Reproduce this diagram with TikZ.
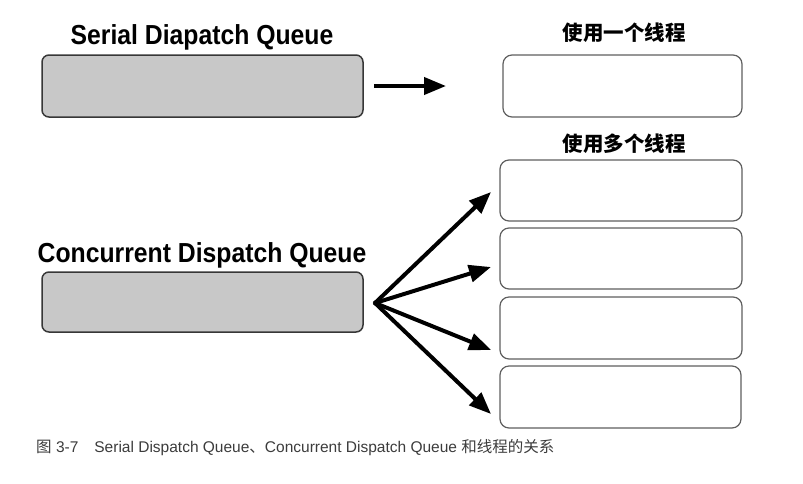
\documentclass[tikz,border=0pt]{standalone}
\usepackage{fontspec}
\setmainfont{Liberation Sans}
\newfontfamily\titlefont[FakeStretch=0.9]{Liberation Sans}
\newfontfamily\cjk{Noto Sans CJK SC}
\usetikzlibrary{arrows.meta}
\definecolor{qfill}{RGB}{200,200,200}
\definecolor{qline}{RGB}{55,55,55}
\definecolor{tline}{RGB}{95,95,95}
\definecolor{captc}{RGB}{60,60,60}
\begin{document}
\begin{tikzpicture}[x=1pt,y=-1pt,
  queuebox/.style={draw=qline,line width=1.5pt,fill=qfill,rounded corners=7pt},
  threadbox/.style={draw=tline,line width=1.2pt,fill=white,rounded corners=9pt},
  qtitle/.style={font=\titlefont\bfseries\fontsize{27.5}{29}\selectfont,anchor=base,inner sep=0pt},
  ctitle/.style={font=\cjk\bfseries\fontsize{20.5}{22}\selectfont,inner sep=0pt},
  arr/.style={-{Triangle[length=22pt,width=17pt]},line width=4pt,black}]
\useasboundingbox (0,0) rectangle (803,483);
% serial
\node[qtitle] (st) at (202,44) {Serial Diapatch Queue};
\draw[queuebox] (42,55) rectangle (363,117);
\node[ctitle] (t1) at (624,33) {使用一个线程};
\draw[threadbox] (503,55) rectangle (742,117);
\coordinate (s1a) at (374,86);
\coordinate (s1b) at (446,86);
\draw[arr] (s1a) -- (s1b);
% concurrent
\node[qtitle] (ct) at (202,262) {Concurrent Dispatch Queue};
\draw[queuebox] (42,272) rectangle (363,332);
\node[ctitle] (t2) at (624,144) {使用多个线程};
\draw[threadbox] (500,160) rectangle (742,221);
\draw[threadbox] (500,228) rectangle (742,289);
\draw[threadbox] (500,297) rectangle (742,359);
\draw[threadbox] (500,366) rectangle (741,428);
\coordinate (o) at (375,303);
\coordinate (e1) at (491,192);
\coordinate (e2) at (491,267);
\coordinate (e3) at (491,350);
\coordinate (e4) at (491,414);
\foreach \e in {e1,e2,e3,e4} \draw[arr,shorten <=-1pt] (o) -- (\e);
% caption
\node[anchor=base west,inner sep=0pt,text=captc,font=\fontsize{15.5}{17}\selectfont] (cap) at (36,452)
  {{\cjk 图} 3-7\hspace{16pt}Serial Dispatch Queue{\cjk 、}Concurrent Dispatch Queue {\cjk 和线程的关系}};
\end{tikzpicture}
\end{document}
